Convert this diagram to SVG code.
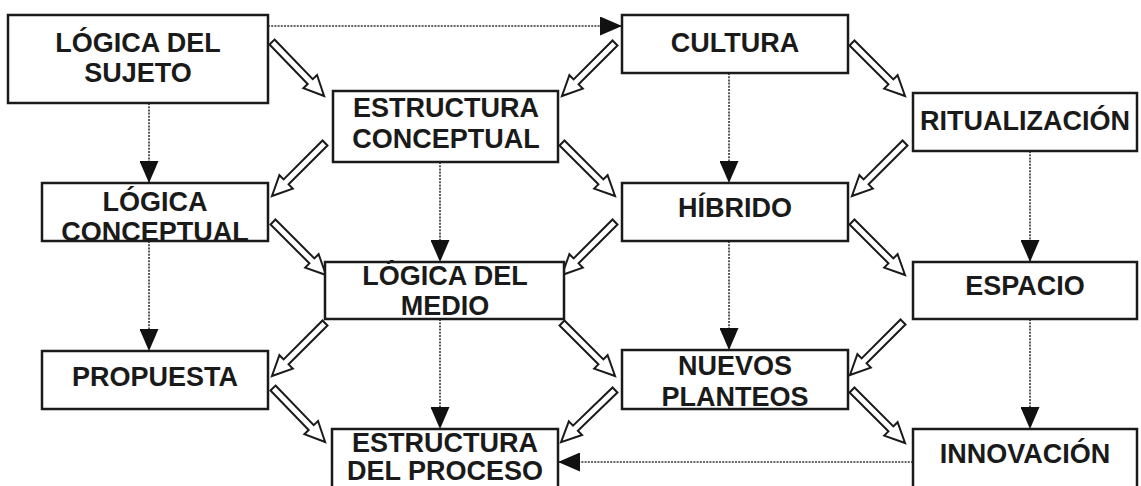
<svg xmlns="http://www.w3.org/2000/svg" xmlns:xlink="http://www.w3.org/1999/xlink" width="1141" height="486" viewBox="0 0 1141 486">
<style>
.box{fill:#fff;stroke:#1a1a1a;stroke-width:2.5}
.t{font-family:"Liberation Sans",Arial,sans-serif;font-weight:bold;font-size:27px;fill:#1a1a1a;text-anchor:middle}
.dot{fill:none;stroke:#333;stroke-width:1.6;stroke-dasharray:2,1.2;marker-end:url(#ah)}
.blk{fill:#fff;stroke:#1a1a1a;stroke-width:2;stroke-linejoin:miter}
</style>
<defs>
<marker id="ah" markerUnits="userSpaceOnUse" markerWidth="22" markerHeight="19" refX="22" refY="9.5" orient="auto">
<path d="M0,0 L22,9.5 L0,19 Z" fill="#111"/>
</marker>
<path id="blk" d="M0,-3.5 L55,-3.5 L55,-9.5 L75,0 L55,9.5 L55,3.5 L0,3.5 Z"/>
</defs>
<rect width="1141" height="486" fill="#fff"/>
<g id="connectors">
<line class="dot" x1="268" y1="26" x2="622" y2="26"/>
<line class="dot" x1="913" y1="462" x2="558" y2="462"/>
<line class="dot" x1="149" y1="103" x2="149" y2="183"/>
<line class="dot" x1="149" y1="241" x2="149" y2="351"/>
<line class="dot" x1="440" y1="162" x2="440" y2="262"/>
<line class="dot" x1="440" y1="319" x2="440" y2="429"/>
<line class="dot" x1="729" y1="73" x2="729" y2="183"/>
<line class="dot" x1="729" y1="241" x2="729" y2="350"/>
<line class="dot" x1="1030" y1="151" x2="1030" y2="262"/>
<line class="dot" x1="1030" y1="319" x2="1030" y2="429"/>
<use xlink:href="#blk" class="blk" transform="translate(272,42) rotate(46)"/>
<use xlink:href="#blk" class="blk" transform="translate(615,43) rotate(135)"/>
<use xlink:href="#blk" class="blk" transform="translate(852,43) rotate(45)"/>
<use xlink:href="#blk" class="blk" transform="translate(325,143) rotate(135)"/>
<use xlink:href="#blk" class="blk" transform="translate(562,143) rotate(45)"/>
<use xlink:href="#blk" class="blk" transform="translate(905,143) rotate(135)"/>
<use xlink:href="#blk" class="blk" transform="translate(273,222) rotate(45)"/>
<use xlink:href="#blk" class="blk" transform="translate(615,222) rotate(135)"/>
<use xlink:href="#blk" class="blk" transform="translate(852,222) rotate(45)"/>
<use xlink:href="#blk" class="blk" transform="translate(325,323) rotate(135)"/>
<use xlink:href="#blk" class="blk" transform="translate(562,323) rotate(45)"/>
<use xlink:href="#blk" class="blk" transform="translate(903,322) rotate(135)"/>
<use xlink:href="#blk" class="blk" transform="translate(273,388) rotate(46)"/>
<use xlink:href="#blk" class="blk" transform="translate(615,390) rotate(136)"/>
<use xlink:href="#blk" class="blk" transform="translate(852,390) rotate(45)"/>
</g>
<g id="n-logica-sujeto">
<rect class="box" x="8" y="15" width="260" height="88"/>
<text class="t" x="138" y="52">LÓGICA DEL</text>
<text class="t" x="138" y="82">SUJETO</text>
</g>
<g id="n-estructura-conceptual">
<rect class="box" x="333" y="91" width="225" height="71"/>
<text class="t" x="446" y="117">ESTRUCTURA</text>
<text class="t" x="446" y="148">CONCEPTUAL</text>
</g>
<g id="n-logica-conceptual">
<rect class="box" x="42" y="183" width="226" height="58"/>
<text class="t" x="155" y="211">LÓGICA</text>
<text class="t" x="155" y="241">CONCEPTUAL</text>
</g>
<g id="n-logica-medio">
<rect class="box" x="325" y="262" width="239" height="57"/>
<text class="t" x="445" y="285">LÓGICA DEL</text>
<text class="t" x="445" y="315">MEDIO</text>
</g>
<g id="n-propuesta">
<rect class="box" x="42" y="351" width="226" height="58"/>
<text class="t" x="155" y="386">PROPUESTA</text>
</g>
<g id="n-estructura-proceso">
<rect class="box" x="332" y="429" width="226" height="62"/>
<text class="t" x="445" y="452">ESTRUCTURA</text>
<text class="t" x="445" y="480">DEL PROCESO</text>
</g>
<g id="n-cultura">
<rect class="box" x="622" y="15" width="226" height="58"/>
<text class="t" x="735" y="52">CULTURA</text>
</g>
<g id="n-hibrido">
<rect class="box" x="622" y="183" width="226" height="58"/>
<text class="t" x="735" y="217">HÍBRIDO</text>
</g>
<g id="n-nuevos-planteos">
<rect class="box" x="622" y="350" width="226" height="59"/>
<text class="t" x="735" y="375">NUEVOS</text>
<text class="t" x="735" y="406">PLANTEOS</text>
</g>
<g id="n-ritualizacion">
<rect class="box" x="913" y="93" width="224" height="58"/>
<text class="t" x="1025" y="130">RITUALIZACIÓN</text>
</g>
<g id="n-espacio">
<rect class="box" x="913" y="262" width="224" height="57"/>
<text class="t" x="1025" y="295">ESPACIO</text>
</g>
<g id="n-innovacion">
<rect class="box" x="913" y="429" width="224" height="62"/>
<text class="t" x="1025" y="463">INNOVACIÓN</text>
</g>
</svg>
